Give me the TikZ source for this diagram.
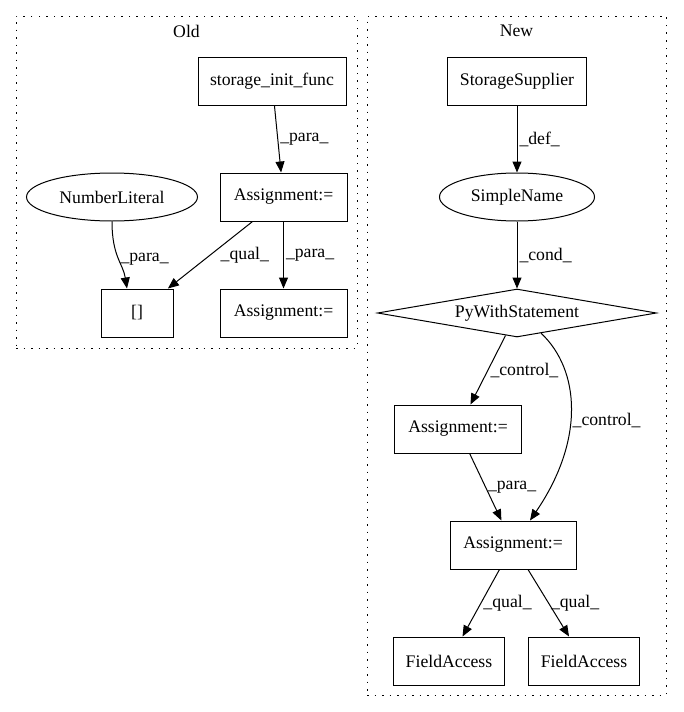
\documentclass[tikz,border=0pt]{standalone}
\usepackage{fontspec}
\setmainfont{Liberation Serif}
\usetikzlibrary{shapes.geometric,arrows.meta}

\begin{document}
\begin{tikzpicture}[x=1pt, y=-1pt, font=\fontsize{17.7}{20}\selectfont,
    box/.style={draw, line width=1pt, minimum height=48pt, inner sep=2pt},
    oval/.style={draw, ellipse, line width=1pt, minimum height=48pt, inner sep=1pt},
    cluster/.style={draw, line width=1pt, dash pattern=on 1.5pt off 6pt, inner sep=0pt},
    flow/.style={-{Triangle[length=11pt,width=9pt]}, line width=1pt},
    lbl/.style={right, inner sep=2pt}]
\useasboundingbox (0,0) rectangle (683,712);

% clusters
\node (old) at (186.5, 182) [cluster, minimum width=341pt, minimum height=332pt] {};
\node (new) at (516.5, 355.5) [cluster, minimum width=299pt, minimum height=679pt] {};
\node (oldlbl) at (186.5, 31) {Old};
\node (newlbl) at (516.5, 31) {New};

% old
\node (init) at (272, 81) [box, minimum width=148pt] {storage\_init\_func};
\node (oasg) at (283.5, 197) [box, minimum width=127pt] {Assignment:=};
\node (numlit) at (112, 197) [oval, minimum width=171pt] {NumberLiteral};
\node (idx) at (137, 313) [box, minimum width=72pt] {[]};
\node (oasg2) at (283.5, 313) [box, minimum width=127pt] {Assignment:=};

\draw[flow] (init) -- (oasg) node[lbl, midway] {\_para\_};
\draw[flow] (numlit.south) .. controls +(0,35) and +(-4,-25) .. ([xshift=-10pt]idx.north)
    node[lbl, pos=0.5] {\_para\_};
\draw[flow] (oasg) -- (idx) node[lbl, midway, xshift=8pt] {\_qual\_};
\draw[flow] (oasg) -- (oasg2) node[lbl, midway] {\_para\_};

% new
\node (supp) at (517, 81) [box, minimum width=139pt] {StorageSupplier};
\node (sname) at (517, 197) [oval, minimum width=155pt] {SimpleName};
\node (pyw) at (517, 313) [draw, diamond, line width=1pt, aspect=5.8, inner sep=0pt,
    minimum width=279pt, minimum height=48pt] {PyWithStatement};
\node (nasg1) at (458, 429) [box, minimum width=127pt] {Assignment:=};
\node (nasg2) at (513, 545) [box, minimum width=126pt] {Assignment:=};
\node (fa1) at (449, 661) [box, minimum width=111pt] {FieldAccess};
\node (fa2) at (584, 661) [box, minimum width=111pt] {FieldAccess};

\draw[flow] (supp) -- (sname) node[lbl, midway] {\_def\_};
\draw[flow] (sname) -- (pyw) node[lbl, midway] {\_cond\_};
\draw[flow] (pyw) -- (nasg1) node[lbl, midway] {\_control\_};
\draw[flow] (pyw.-40) .. controls (580,370) and (585,440) .. ([xshift=17pt]nasg2.north)
    node[lbl, pos=0.55] {\_control\_};
\draw[flow] (nasg1) -- (nasg2) node[lbl, midway] {\_para\_};
\draw[flow] (nasg2) -- (fa1) node[lbl, midway] {\_qual\_};
\draw[flow] (nasg2) -- (fa2) node[lbl, midway] {\_qual\_};
\end{tikzpicture}
\end{document}
